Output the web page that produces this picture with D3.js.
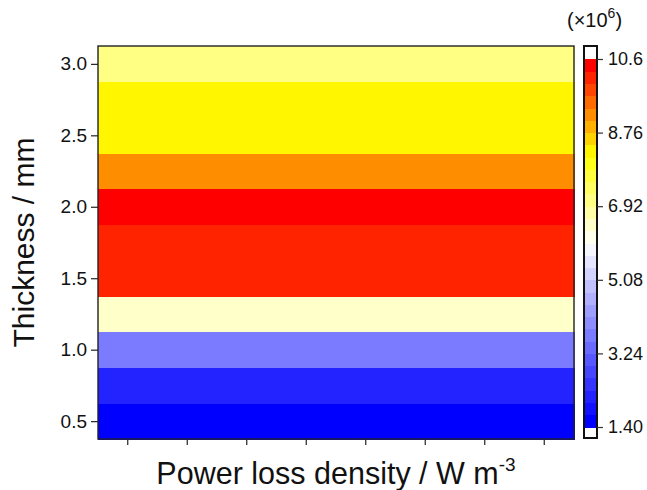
<!DOCTYPE html>
<html>
<head>
<meta charset="utf-8">
<script src="https://cdn.jsdelivr.net/npm/d3@7"></script>
<style>
  html, body { margin: 0; padding: 0; background: #ffffff; }
  svg { display: block; font-family: "Liberation Sans", Arial, sans-serif; }
</style>
</head>
<body>
<div id="chart"></div>
<script>
// ---- data ----
const thickness = [0.5, 0.75, 1.0, 1.25, 1.5, 1.75, 2.0, 2.25, 2.5, 2.75, 3.0];          // mm (row centres)
const lossByThickness = [1.5, 2.2, 3.7, 6.5, 10.1, 10.1, 10.5, 9.2, 8.3, 8.3, 7.1];   // x10^6 W m^-3
const columns = [1, 2, 3, 4, 5, 6, 7, 8];                                                // x positions (unlabelled)
const yTicks = [0.5, 1.0, 1.5, 2.0, 2.5, 3.0];
const cbTicks = [1.40, 3.24, 5.08, 6.92, 8.76, 10.6];
const cbTickLabels = ["1.40", "3.24", "5.08", "6.92", "8.76", "10.6"];
const cmapStops = [0, 0.5, 0.75, 1];
const cmapColors = ["#0000ff", "#ffffff", "#ffff00", "#ff0000"];
const levelCount = 30;

// ---- layout ----
const W = 647, H = 490;
const plot = { left: 98, right: 574, top: 46, bottom: 439 };
const cb = { left: 584, right: 597, top: 46, bottom: 438, vTop: 59, vBottom: 427 };

const svg = d3.select("#chart").append("svg").attr("width", W).attr("height", H);
svg.append("rect").attr("width", W).attr("height", H).attr("fill", "#fff");

const x = d3.scaleBand().domain(columns).range([plot.left, plot.right]).padding(0);
const y = d3.scaleLinear().domain([0.375, 3.125]).range([plot.bottom, plot.top]);

const vMin = cbTicks[0], vMax = cbTicks[cbTicks.length - 1];
const cmap = d3.scaleLinear().domain(cmapStops).range(cmapColors).interpolate(d3.interpolateRgb);
const levelStep = (vMax - vMin) / levelCount;
function levelIndex(v) {
  return Math.max(0, Math.min(levelCount - 1, Math.floor((v - vMin) / levelStep)));
}
function colorOf(v) { return cmap(levelIndex(v) / (levelCount - 1)); }

// cells
const cells = [];
thickness.forEach((t, i) => columns.forEach(c => cells.push({ t, c, v: lossByThickness[i] })));
const half = 0.125;
svg.append("g").selectAll("rect").data(cells).join("rect")
  .attr("x", d => x(d.c))
  .attr("width", x.bandwidth() + 0.5)
  .attr("y", d => y(d.t + half))
  .attr("height", d => y(d.t - half) - y(d.t + half) + 0.5)
  .attr("fill", d => colorOf(d.v))
  .attr("shape-rendering", "crispEdges");

// frame
svg.append("rect")
  .attr("x", plot.left).attr("y", plot.top)
  .attr("width", plot.right - plot.left).attr("height", plot.bottom - plot.top)
  .attr("fill", "none").attr("stroke", "#222").attr("stroke-width", 1.4);

// y axis
const yAxis = d3.axisLeft(y).tickValues(yTicks).tickFormat(d3.format(".1f")).tickSize(7).tickPadding(4);
const gy = svg.append("g").attr("transform", `translate(${plot.left},0)`).call(yAxis);
gy.select(".domain").remove();
gy.selectAll("line").attr("stroke", "#222").attr("stroke-width", 1.2);
gy.selectAll("text").attr("font-size", 19).attr("fill", "#111")
  .attr("font-family", "'Liberation Sans', Arial, sans-serif");

// x axis (ticks only)
const xAxis = d3.axisBottom(x).tickFormat(() => "").tickSize(6);
const gx = svg.append("g").attr("transform", `translate(0,${plot.bottom})`).call(xAxis);
gx.select(".domain").remove();
gx.selectAll("line").attr("stroke", "#222").attr("stroke-width", 1.2);

// axis titles
svg.append("text")
  .attr("transform", `translate(34,${(plot.top + plot.bottom) / 2}) rotate(-90)`)
  .attr("text-anchor", "middle").attr("font-size", 30).attr("fill", "#111")
  .text("Thickness / mm");

const xt = svg.append("text")
  .attr("x", (plot.left + plot.right) / 2).attr("y", 484)
  .attr("text-anchor", "middle").attr("font-size", 30.5).attr("fill", "#111");
xt.append("tspan").text("Power loss density / W m");
xt.append("tspan").attr("font-size", 19).attr("dy", -13).text("-3");

// colorbar
const cy = d3.scaleLinear().domain([vMin, vMax]).range([cb.vBottom, cb.vTop]);
const levels = d3.range(levelCount).map(k => ({ k, lo: vMin + k * levelStep, hi: vMin + (k + 1) * levelStep }));
const gcb = svg.append("g");
gcb.append("rect").attr("x", cb.left).attr("y", cb.top).attr("width", cb.right - cb.left)
  .attr("height", cb.bottom - cb.top).attr("fill", "#fff");
gcb.selectAll("rect.lv").data(levels).join("rect").attr("class", "lv")
  .attr("x", cb.left).attr("width", cb.right - cb.left)
  .attr("y", d => cy(d.hi)).attr("height", d => cy(d.lo) - cy(d.hi) + 0.5)
  .attr("fill", d => cmap(d.k / (levelCount - 1)))
  .attr("shape-rendering", "crispEdges");
gcb.append("rect").attr("x", cb.left).attr("y", cb.top).attr("width", cb.right - cb.left)
  .attr("height", cb.bottom - cb.top).attr("fill", "none").attr("stroke", "#111").attr("stroke-width", 2);

const cbAxis = d3.axisRight(cy).tickValues(cbTicks).tickFormat((d, i) => cbTickLabels[i]).tickSize(6).tickPadding(5);
const gca = svg.append("g").attr("transform", `translate(${cb.right},0)`).call(cbAxis);
gca.select(".domain").remove();
gca.selectAll("line").attr("stroke", "#333").attr("stroke-width", 1.2);
gca.selectAll("text").attr("font-size", 18).attr("fill", "#111")
  .attr("font-family", "'Liberation Sans', Arial, sans-serif");

const unit = svg.append("text").attr("x", 567).attr("y", 27).attr("font-size", 20).attr("fill", "#111");
unit.append("tspan").text("(\u00d710");
unit.append("tspan").attr("font-size", 14).attr("dy", -9).text("6");
unit.append("tspan").attr("dy", 9).text(")");
</script>
</body>
</html>
